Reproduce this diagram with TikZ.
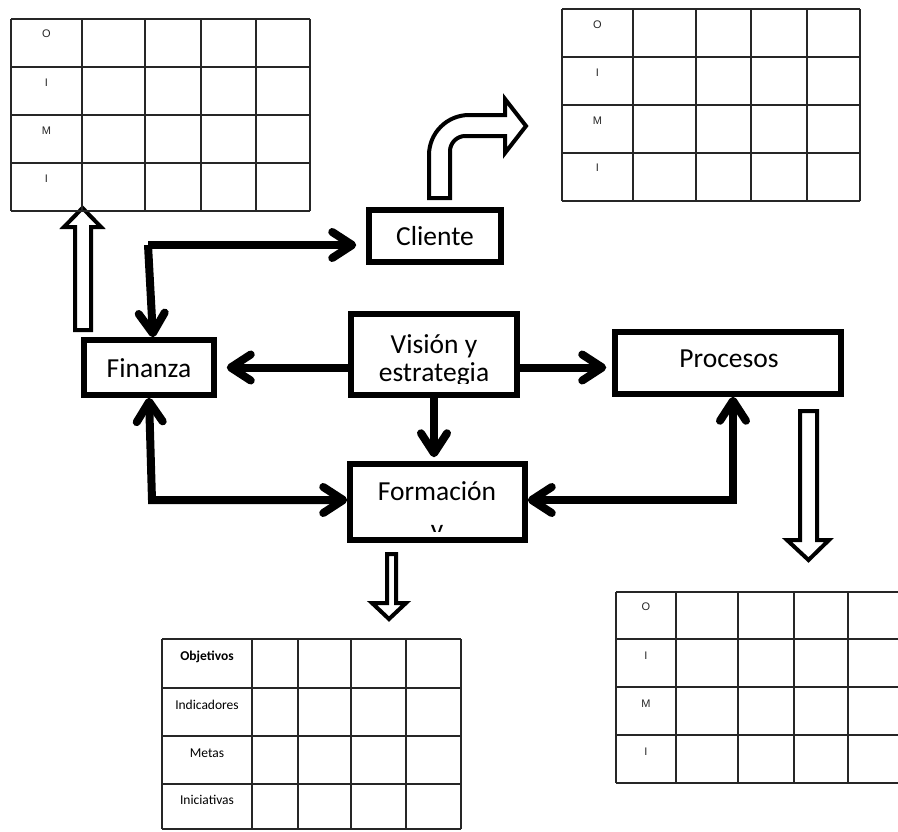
\documentclass[tikz,border=0pt]{standalone}
\usepackage{fontspec}
\setmainfont{Carlito}
\newfontfamily\cellfont{Liberation Sans}
\usetikzlibrary{arrows.meta}

\begin{document}
\begin{tikzpicture}[x=1pt,y=-1pt,
  box/.style={draw, line width=5.5pt, fill=white, inner sep=0pt},
  lbl/.style={font=\fontsize{27.5}{28}\selectfont, inner sep=0pt},
  conn/.style={line width=8pt, line join=miter, -{Straight Barb[length=20pt,width=26pt,round]}},
  conntwo/.style={line width=8pt, line join=miter, {Straight Barb[length=20pt,width=26pt,round]}-{Straight Barb[length=20pt,width=26pt,round]}},
  block/.style={draw, line width=4pt, fill=white, line join=miter},
  gridline/.style={line width=1.3pt, black!85},
  cell/.style={font=\cellfont\fontsize{11}{13}\selectfont, inner sep=0pt, text=black!85},
  celltxt/.style={font=\fontsize{13.5}{15}\selectfont, inner sep=0pt}
]
\useasboundingbox[fill=white] (0,0) rectangle (898,831);

% hollow block arrows
\draw[block] (75,330) -- (75,227) -- (64,227) -- (82.5,208) -- (101,227) -- (91,227) -- (91,330) -- cycle;
\draw[block] (429,198) -- (429,155) .. controls (429,133) and (447,115) .. (469,115)
  -- (505,115) -- (505,99) -- (526,126) -- (505,153) -- (505,136) -- (465,136)
  .. controls (457,136) and (450,143) .. (450,151) -- (450,198) -- cycle;
\draw[block] (800,411) -- (800,540) -- (787,540) -- (808.5,560) -- (829,540) -- (817,540) -- (817,411) -- cycle;
\draw[block] (387,554) -- (387,603) -- (372,603) -- (389,619) -- (406,603) -- (396,603) -- (396,554) -- cycle;

% table top left
\foreach \x in {11,82,145,201,256,310} \draw[gridline] (\x,19) -- (\x,211);
\foreach \y in {19,67,115,163,211} \draw[gridline] (11,\y) -- (310,\y);
\foreach \t/\y in {O/34,I/83,M/131,I/179} \node[cell] (tl\y) at (46.5,\y) {\t};

% table top right
\foreach \x in {562,633,696,751,807,860} \draw[gridline] (\x,9) -- (\x,201);
\foreach \y in {9,57,105,153,201} \draw[gridline] (562,\y) -- (860,\y);
\foreach \t/\y in {O/25,I/73,M/121,I/168} \node[cell] (tr\y) at (597.5,\y) {\t};

% table bottom right
\foreach \x in {616,676,738,794,848} \draw[gridline] (\x,592) -- (\x,783);
\foreach \y in {592,639,687,735,783} \draw[gridline] (616,\y) -- (898,\y);
\foreach \t/\y in {O/607,I/656,M/704,I/752} \node[cell] (br\y) at (646,\y) {\t};

% table bottom
\foreach \x in {162,252,298,351,406,461} \draw[gridline] (\x,639) -- (\x,829);
\foreach \y in {639,688,736,784,829} \draw[gridline] (162,\y) -- (461,\y);
\node[celltxt, font=\bfseries\fontsize{13.5}{15}\selectfont] (bo) at (207,657) {Objetivos};
\node[celltxt] (bi) at (207,705) {Indicadores};
\node[celltxt] (bm) at (207,753) {Metas};
\node[celltxt] (bn) at (207,800) {Iniciativas};

% boxes
\node[box, minimum width=132pt, minimum height=52pt] (cli) at (435,236) {};
\node[box, minimum width=130pt, minimum height=55pt] (fin) at (149,367.5) {};
\node[box, minimum width=166pt, minimum height=81pt] (vis) at (434,354.5) {};
\node[box, minimum width=226pt, minimum height=62pt] (pro) at (728,363) {};
\node[box, minimum width=175pt, minimum height=76pt] (form) at (437.5,502) {};

% box texts, cut off where the text frame ends
\node[lbl, anchor=base] (clit) at (435,245) {Cliente};
\node[lbl, anchor=base] (fint) at (149,377) {Finanza};
\begin{scope}
  \clip (352,316) rectangle (516,383);
  \node[lbl, anchor=base] (vist1) at (434,353) {Visión y};
  \node[lbl, anchor=base] (vist2) at (434,381) {estrategia};
\end{scope}
\begin{scope}
  \clip (616,334) rectangle (840,386);
  \node[lbl, anchor=base] (prot1) at (729,367) {Procesos};
  \node[lbl, anchor=base] (prot2) at (729,406) {internos};
\end{scope}
\begin{scope}
  \clip (352,466) rectangle (523,531);
  \node[lbl, anchor=base] (formt1) at (437,500) {Formación};
  \node[lbl, anchor=base] (formt2) at (437,538) {y};
\end{scope}

% connectors
\coordinate (c1) at (148,245);
\coordinate (c2) at (152,500);
\coordinate (c3) at (733,500);
\draw[conn, shorten >=10pt] (c1) -- (cli.west |- c1);
\draw[conn] (c1) -- ([xshift=4pt]fin.north);
\draw[conn, shorten >=10pt] (vis.west |- fin.east) -- (fin.east);
\draw[conn, shorten >=6pt] (vis.east |- fin.east) -- (pro.west |- fin.east);
\draw[conn, shorten >=4pt] (vis.south) -- (vis.south |- form.north);
\draw[conntwo] (fin.south) -- (c2) -- (form.west |- c2);
\draw[conntwo] (form.east |- c3) -- (c3) -- (c3 |- pro.south);
\end{tikzpicture}
\end{document}
